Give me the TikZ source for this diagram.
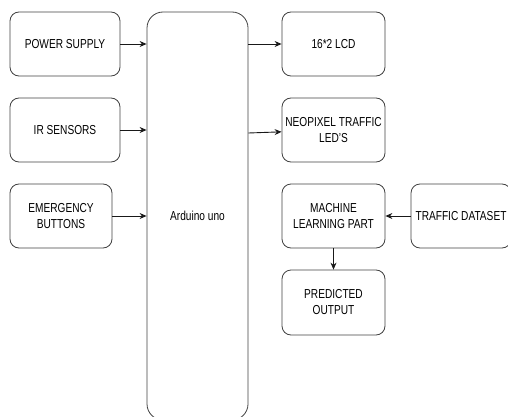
\documentclass[tikz,border=0pt]{standalone}
\usepackage{fontspec}
\setmainfont{Liberation Sans}[FakeStretch=0.78]
\usepackage{tikz}
\usetikzlibrary{arrows.meta}

\begin{document}
\begin{tikzpicture}[x=1pt, y=-1pt, >={Stealth[length=7pt,width=6pt]},
		block/.style={draw=black!75, line width=0.8pt, rectangle, rounded corners=9pt, align=center,
			minimum width=103pt, minimum height=64pt, inner sep=1pt,
			font=\fontsize{13}{16}\selectfont},
		link/.style={->, line width=0.9pt, draw=black!90}]
				\useasboundingbox (0,0) rectangle (508,417);
				\node (box1) [block, minimum width=110pt] at (65,44) {POWER SUPPLY};
				\node (box2) [block, minimum width=110pt] at (65,130) {IR SENSORS};
				\node (box3) [block, minimum width=102pt] at (61,216) {EMERGENCY\\BUTTONS};
				\node (box4) [block, minimum width=101pt, minimum height=408pt, rounded corners=16pt] at (197.5,216) {Arduino uno};
				\node (box5) [block] at (333.5,44) {16*2 LCD};
				\node (box6) [block] at (333.5,130) {NEOPIXEL TRAFFIC\\LED'S};
				\node (box7) [block] at (333.5,216) {MACHINE\\LEARNING PART};
				\node (box8) [block, minimum width=100pt] at (461,216) {TRAFFIC DATASET};
				\node (box9) [block, minimum height=65pt] at (333.5,302.5) {PREDICTED\\OUTPUT};
				
				% Arrows
				\draw[link] (box1) -- (box1 -| box4.west);
				\draw[link] (box2) -- (box2 -| box4.west);
				\draw[link] (box3) -- (box3 -| box4.west);
				\draw[link] (box4.east |- box5) -- (box5);
				\draw[link] ([yshift=-3pt]box4.east |- box6) -- (box6);
				\draw[link] (box8) -- (box7);
				\draw[link] (box7) -- (box9);
		\end{tikzpicture}
\end{document}
